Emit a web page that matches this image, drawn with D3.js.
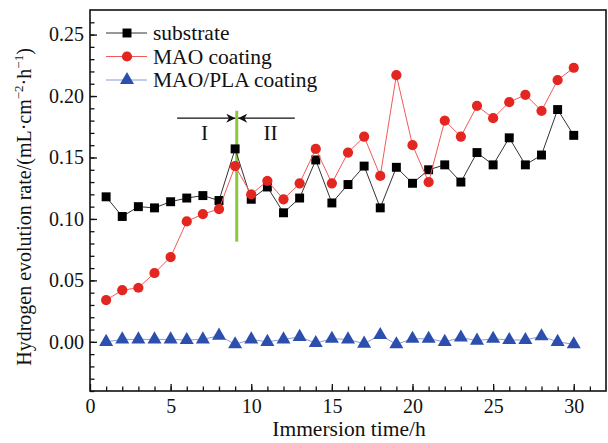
<!DOCTYPE html>
<html>
<head>
<meta charset="utf-8">
<script src="https://cdn.jsdelivr.net/npm/d3@7"></script>
<style>
  body { margin: 0; background: #fff; }
  svg { display: block; font-family: "Liberation Serif", "Times New Roman", serif; }
  svg text { font-family: "Liberation Serif", "Times New Roman", serif; }
</style>
</head>
<body>
<svg width="608" height="443"></svg>
<script>
const hours = [1, 2, 3, 4, 5, 6, 7, 8, 9, 10, 11, 12, 13, 14, 15,
  16, 17, 18, 19, 20, 21, 22, 23, 24, 25, 26, 27, 28, 29, 30];

const substrate = [0.118, 0.102, 0.110, 0.109, 0.114, 0.117, 0.119, 0.115, 0.157, 0.116,
  0.126, 0.105, 0.117, 0.148, 0.113, 0.128, 0.143, 0.109, 0.142, 0.129,
  0.140, 0.144, 0.130, 0.154, 0.144, 0.166, 0.144, 0.152, 0.189, 0.168];

const maoCoating = [0.034, 0.042, 0.044, 0.056, 0.069, 0.098, 0.104, 0.108, 0.143, 0.120,
  0.131, 0.116, 0.129, 0.157, 0.129, 0.154, 0.167, 0.135, 0.217, 0.160,
  0.130, 0.180, 0.167, 0.192, 0.182, 0.195, 0.201, 0.188, 0.213, 0.223];

const maoPla = [0.000, 0.002, 0.002, 0.002, 0.002, 0.0015, 0.002, 0.005, -0.002, 0.002,
  0.000, 0.002, 0.004, -0.001, 0.0025, 0.002, -0.0015, 0.0055, -0.002, 0.0025,
  0.0025, 0.000, 0.0035, 0.001, 0.0025, 0.0015, 0.0015, 0.0045, 0.000, -0.002];

const seriesNames = ['substrate', 'MAO coating', 'MAO/PLA coating'];
const xTicks = [0, 5, 10, 15, 20, 25, 30];
const yTicks = [0.00, 0.05, 0.10, 0.15, 0.20, 0.25];

// stage boundary (green line) and stage labels
const stageSplit = 9.1;
const stageLabels = ['I', 'II'];

const svg = d3.select('svg');
const plotL = 90, plotR = 606, plotT = 10, plotB = 391;

const x = d3.scaleLinear().domain([0, 32]).range([plotL, plotR]);
const y = d3.scaleLinear().domain([-0.04, 0.27]).range([plotB, plotT]);

const fontSize = 20;
const titleSize = 21.5;

const styleAxis = (g) => {
  g.attr('font-family', null).attr('font-size', fontSize);
  g.select('.domain').remove();
  g.selectAll('text').attr('fill', '#111');
};

// minor ticks
svg.append('g')
  .attr('transform', `translate(${plotL},0)`)
  .call(d3.axisLeft(y).tickValues(d3.range(-4, 27).map(d => d / 100)).tickSize(-4.5).tickFormat(''))
  .call(styleAxis);

svg.append('g')
  .attr('transform', `translate(0,${plotB})`)
  .call(d3.axisBottom(x).tickValues(d3.range(1, 32)).tickSize(-4.5).tickFormat(''))
  .call(styleAxis);

// major ticks
svg.append('g')
  .attr('transform', `translate(${plotL},0)`)
  .call(d3.axisLeft(y).tickValues(yTicks).tickSize(-7).tickPadding(6).tickFormat(d3.format('.2f')))
  .call(styleAxis);

svg.append('g')
  .attr('transform', `translate(0,${plotB})`)
  .call(d3.axisBottom(x).tickValues(xTicks).tickSize(-7).tickPadding(8))
  .call(styleAxis);

svg.selectAll('.tick line').attr('stroke', '#111').attr('stroke-width', 1.3);

// frame
svg.append('rect')
  .attr('x', plotL).attr('y', plotT)
  .attr('width', plotR - plotL).attr('height', plotB - plotT)
  .attr('fill', 'none').attr('stroke', '#111').attr('stroke-width', 1.6);

// axis titles
svg.append('text')
  .attr('x', 349)
  .attr('y', 436)
  .attr('text-anchor', 'middle')
  .attr('font-size', titleSize)
  .attr('fill', '#111')
  .text('Immersion time/h');

const yTitle = svg.append('text')
  .attr('transform', 'translate(31,207) rotate(-90)')
  .attr('text-anchor', 'middle')
  .attr('font-size', fontSize)
  .attr('fill', '#111');
yTitle.append('tspan').text('Hydrogen evolution rate/(mL\u00b7cm');
yTitle.append('tspan').attr('font-size', 13).attr('dy', -8).text('\u22122');
yTitle.append('tspan').attr('dy', 8).text('\u00b7h');
yTitle.append('tspan').attr('font-size', 13).attr('dy', -8).text('\u22121');
yTitle.append('tspan').attr('dy', 8).text(')');

// stage marker
svg.append('line')
  .attr('x1', x(stageSplit)).attr('x2', x(stageSplit))
  .attr('y1', y(0.188)).attr('y2', y(0.0815))
  .attr('stroke', '#8cc83c').attr('stroke-width', 3);

const defs = svg.append('defs');
defs.append('marker')
  .attr('id', 'arrow')
  .attr('viewBox', '0 0 10 10')
  .attr('refX', 10).attr('refY', 5)
  .attr('markerWidth', 15).attr('markerHeight', 9)
  .attr('markerUnits', 'userSpaceOnUse')
  .attr('orient', 'auto')
  .append('path')
  .attr('d', 'M0,0 L10,5 L0,10 L3,5 Z')
  .attr('fill', '#111');

svg.append('line')
  .attr('x1', x(5.4)).attr('x2', x(stageSplit) - 1.5)
  .attr('y1', y(0.182)).attr('y2', y(0.182))
  .attr('stroke', '#111').attr('stroke-width', 1.2)
  .attr('marker-end', 'url(#arrow)');

svg.append('line')
  .attr('x1', x(12.7)).attr('x2', x(stageSplit) + 1.5)
  .attr('y1', y(0.182)).attr('y2', y(0.182))
  .attr('stroke', '#111').attr('stroke-width', 1.2)
  .attr('marker-end', 'url(#arrow)');

svg.selectAll('.stage')
  .data(stageLabels)
  .enter()
  .append('text')
  .attr('class', 'stage')
  .attr('x', (d, i) => x(i === 0 ? 7.1 : 11.2))
  .attr('y', y(0.164))
  .attr('text-anchor', 'middle')
  .attr('font-size', titleSize)
  .attr('fill', '#111')
  .text(d => d);

// series
const series = [
  { name: seriesNames[0], values: substrate, line: '#333', fill: '#000', shape: d3.symbolSquare, size: 80 },
  { name: seriesNames[1], values: maoCoating, line: '#f05a5a', fill: '#e3261f', shape: d3.symbolCircle, size: 82 },
  { name: seriesNames[2], values: maoPla, line: '#8a9ad8', fill: '#2c4fae', shape: d3.symbolTriangle, size: 85 }
];

const line = d3.line()
  .x(d => x(d[0]))
  .y(d => y(d[1]));

series.forEach((s) => {
  const pts = hours.map((h, i) => [h, s.values[i]]);
  svg.append('path')
    .datum(pts)
    .attr('d', line)
    .attr('fill', 'none')
    .attr('stroke', s.line)
    .attr('stroke-width', 1);

  svg.append('g')
    .selectAll('path')
    .data(pts)
    .enter()
    .append('path')
    .attr('transform', (d) => `translate(${x(d[0])},${y(d[1])})`)
    .attr('d', d3.symbol().type(s.shape).size(s.size))
    .attr('fill', s.fill);
});

// legend
const legend = svg.append('g')
  .selectAll('g')
  .data(series)
  .enter()
  .append('g')
  .attr('transform', (d, i) => `translate(106,${33 + i * 23.5})`);

legend.append('line')
  .attr('x1', 0).attr('x2', 41)
  .attr('stroke', (d) => d.line)
  .attr('stroke-width', 1);

legend.append('path')
  .attr('transform', 'translate(21,0)')
  .attr('d', (d) => d3.symbol().type(d.shape).size(d.size)())
  .attr('fill', (d) => d.fill);

legend.append('text')
  .attr('x', 47)
  .attr('y', 7)
  .attr('font-size', titleSize)
  .attr('fill', '#111')
  .text((d) => d.name);
</script>
</body>
</html>
